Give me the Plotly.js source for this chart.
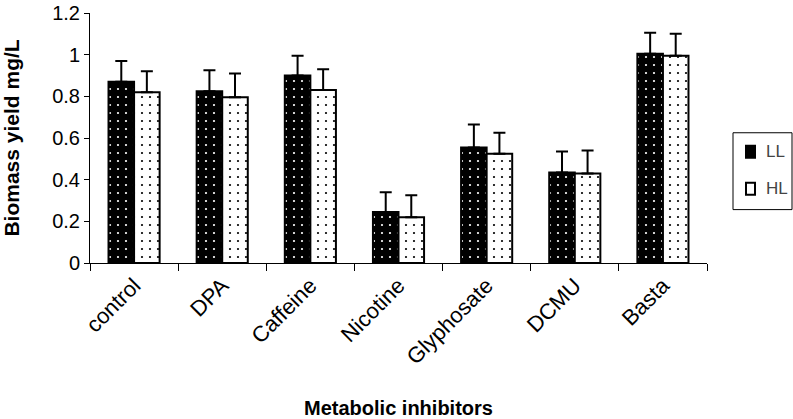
<!DOCTYPE html>
<html>
<head>
<meta charset="utf-8">
<script src="https://cdn.plot.ly/plotly-3.0.1.min.js"></script>
<style>
  html, body { margin: 0; padding: 0; background: #fff; }
  #chart { width: 793px; height: 419px; }
</style>
</head>
<body>
<div id="chart"></div>
<script>
const categories = ["control", "DPA", "Caffeine", "Nicotine", "Glyphosate", "DCMU", "Basta"];
const llValues = [0.87, 0.825, 0.90, 0.245, 0.555, 0.435, 1.005];
const hlValues = [0.82, 0.795, 0.83, 0.22, 0.525, 0.43, 0.995];
const llErrors = [0.10, 0.10, 0.095, 0.095, 0.11, 0.10, 0.10];
const hlErrors = [0.10, 0.115, 0.10, 0.105, 0.10, 0.11, 0.105];
const seriesNames = ["LL", "HL"];
const zeros = categories.map(() => 0);

const font = "Liberation Sans, Arial, sans-serif";

const traces = [
  {
    type: "bar", name: seriesNames[0], x: categories, y: llValues, showlegend: false,
    marker: {
      color: "#000000",
      line: { color: "#000000", width: 2 },
      pattern: { shape: ".", fgcolor: "#ffffff", bgcolor: "#000000", size: 8, solidity: 0.06, fillmode: "replace" }
    },
    error_y: { type: "data", symmetric: false, array: llErrors, arrayminus: zeros, color: "#000000", thickness: 2, width: 6 }
  },
  {
    type: "bar", name: seriesNames[1], x: categories, y: hlValues, showlegend: false,
    marker: {
      color: "#ffffff",
      line: { color: "#000000", width: 2 },
      pattern: { shape: ".", fgcolor: "#000000", bgcolor: "#ffffff", size: 8, solidity: 0.06, fillmode: "replace" }
    },
    error_y: { type: "data", symmetric: false, array: hlErrors, arrayminus: zeros, color: "#000000", thickness: 2, width: 6 }
  }
];

// Legend box geometry (plot area: x 90..707 px, y 13..263.5 px)
const L = 90, PW = 617, B = 263.5, PH = 250.5;
const px = v => (v - L) / PW;
const py = v => (B - v) / PH;

const shapes = [
  { type: "rect", xref: "paper", yref: "paper", x0: px(733), x1: px(792), y0: py(210), y1: py(133),
    line: { color: "#000000", width: 1 }, fillcolor: "#ffffff", layer: "above" },
  { type: "rect", xref: "paper", yref: "paper", x0: px(746), x1: px(755), y0: py(158), y1: py(146),
    line: { color: "#000000", width: 2 }, fillcolor: "#000000", layer: "above" },
  { type: "rect", xref: "paper", yref: "paper", x0: px(746), x1: px(755), y0: py(195), y1: py(183),
    line: { color: "#000000", width: 2 }, fillcolor: "#ffffff", layer: "above" }
];

const annotations = [
  { xref: "paper", yref: "paper", x: px(764), y: py(152), xanchor: "left", yanchor: "middle",
    text: seriesNames[0], showarrow: false, font: { family: font, size: 17, color: "#444444" } },
  { xref: "paper", yref: "paper", x: px(764), y: py(189), xanchor: "left", yanchor: "middle",
    text: seriesNames[1], showarrow: false, font: { family: font, size: 17, color: "#444444" } }
];

const layout = {
  width: 793, height: 419,
  paper_bgcolor: "#ffffff", plot_bgcolor: "#ffffff",
  margin: { l: 90, r: 86, t: 13, b: 155.5, pad: 0 },
  barmode: "group", bargap: 0.42, bargroupgap: 0,
  font: { family: font, color: "#000000" },
  showlegend: false,
  shapes: shapes,
  annotations: annotations,
  xaxis: {
    type: "category", tickson: "boundaries",
    showline: true, linecolor: "#000000", linewidth: 1,
    ticks: "outside", ticklen: 7, tickcolor: "#000000",
    showgrid: false, zeroline: false,
    tickangle: -45,
    tickfont: { family: font, size: 22, color: "#000000" },
    title: { text: "Metabolic inhibitors", font: { family: font, size: 20, color: "#000000", weight: "bold" }, standoff: 40 }
  },
  yaxis: {
    range: [0, 1.2], dtick: 0.2, tick0: 0,
    showline: true, linecolor: "#000000", linewidth: 1,
    ticks: "outside", ticklen: 5, tickcolor: "#000000",
    showgrid: false, zeroline: false,
    tickfont: { family: font, size: 20, color: "#000000" },
    title: { text: "Biomass yield mg/L", font: { family: font, size: 21, color: "#000000", weight: "bold" }, standoff: 28 }
  }
};

Plotly.newPlot("chart", traces, layout, { displayModeBar: false, staticPlot: true });
</script>
</body>
</html>
